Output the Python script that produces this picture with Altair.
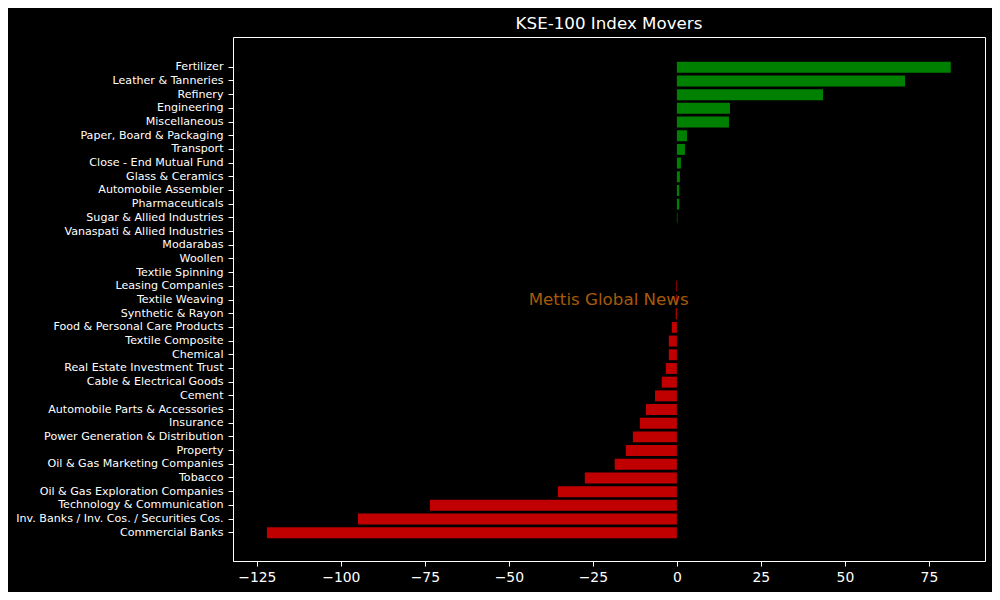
import altair as alt
import pandas as pd

sectors = [
    "Fertilizer", "Leather & Tanneries", "Refinery", "Engineering", "Miscellaneous",
    "Paper, Board & Packaging", "Transport", "Close - End Mutual Fund", "Glass & Ceramics",
    "Automobile Assembler", "Pharmaceuticals", "Sugar & Allied Industries",
    "Vanaspati & Allied Industries", "Modarabas", "Woollen", "Textile Spinning",
    "Leasing Companies", "Textile Weaving", "Synthetic & Rayon", "Food & Personal Care Products",
    "Textile Composite", "Chemical", "Real Estate Investment Trust", "Cable & Electrical Goods",
    "Cement", "Automobile Parts & Accessories", "Insurance", "Power Generation & Distribution",
    "Property", "Oil & Gas Marketing Companies", "Tobacco", "Oil & Gas Exploration Companies",
    "Technology & Communication", "Inv. Banks / Inv. Cos. / Securities Cos.", "Commercial Banks",
]
changes = [
    81.5, 67.9, 43.5, 15.8, 15.5,
    3.0, 2.4, 1.2, 0.9,
    0.7, 0.7, 0.15,
    0.0, 0.0, 0.0, 0.0,
    -0.2, -0.2, -0.35, -1.5,
    -2.4, -2.4, -3.3, -4.5,
    -6.5, -9.2, -11.0, -13.1,
    -15.2, -18.5, -27.4, -35.4,
    -73.5, -94.9, -122.0,
]
x_ticks = [-125, -100, -75, -50, -25, 0, 25, 50, 75]
title_text = "KSE-100 Index Movers"
watermark = "Mettis Global News"

df = pd.DataFrame({"sector": sectors, "change": changes})
df["sign"] = ["pos" if v >= 0 else "neg" for v in changes]

FONT = "DejaVu Sans"

x_enc = alt.X(
    "change:Q",
    scale=alt.Scale(domain=[-132.1, 91.7], nice=False, zero=False),
    axis=alt.Axis(values=x_ticks, title=None, grid=False, labelFontSize=13.9,
                  tickSize=5, labelPadding=4, labelFlush=False),
)
y_enc = alt.Y(
    "sector:N",
    sort=sectors,
    scale=alt.Scale(paddingInner=0.2, paddingOuter=0, range=[24.8, 501.2]),
    axis=alt.Axis(title=None, grid=False, labelFontSize=11.1, tickSize=5, labelPadding=5,
                  labelLimit=400),
)

bars = alt.Chart(df).mark_bar().encode(
    x=x_enc,
    y=y_enc,
    color=alt.Color("sign:N", scale=alt.Scale(domain=["pos", "neg"], range=["#008000", "#c00000"]),
                    legend=None),
)

wm = alt.Chart(pd.DataFrame({"t": [watermark]})).mark_text(
    font=FONT, fontSize=16.7, color="#a65b0a", align="center", baseline="middle"
).encode(
    x=alt.XDatum(-20.3, type="quantitative"),
    y=alt.YDatum("Textile Weaving", type="nominal"),
    text="t:N",
)

chart = alt.layer(bars, wm).properties(
    width=752,
    height=524,
    autosize=alt.AutoSizeParams(type="none"),
    padding={"left": 225, "top": 29, "right": 7, "bottom": 31},
    title=alt.TitleParams(title_text, color="white", fontSize=16.7, font=FONT,
                          fontWeight="normal", anchor="middle", offset=4),
).configure(
    background="black",
).configure_view(
    stroke="white", strokeWidth=1,
).configure_axis(
    domainColor="white", tickColor="white", labelColor="white", labelFont=FONT,
    domainWidth=1, tickWidth=1,
)

chart.save("out.html", embed_options={"renderer": "svg", "actions": False})
